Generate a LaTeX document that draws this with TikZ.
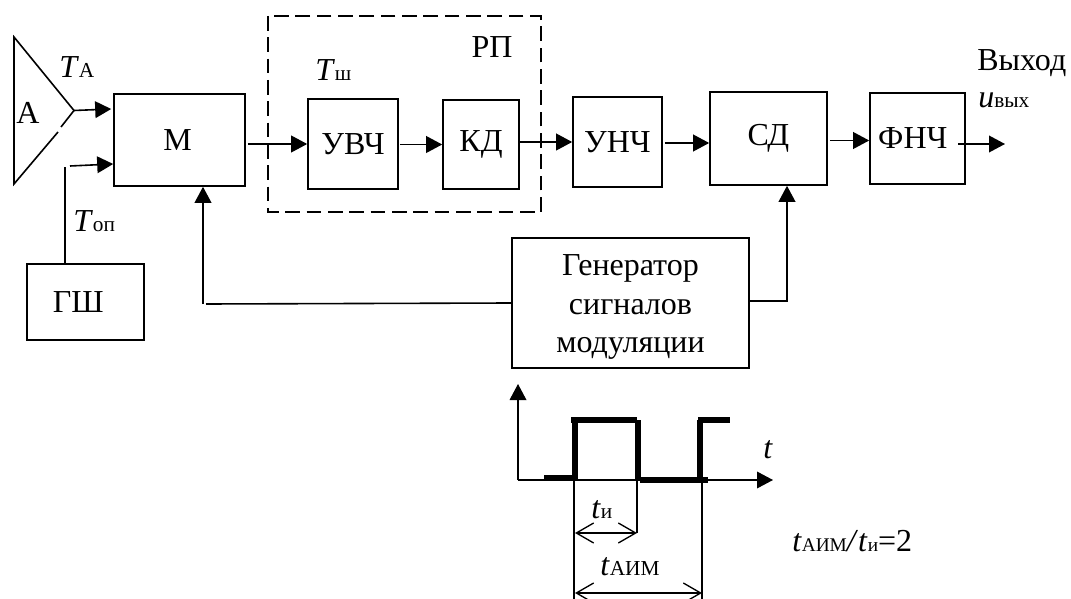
\documentclass[tikz,border=0pt]{standalone}
\usepackage{fontspec}
\setmainfont{Liberation Serif}
\usepackage{tikz}
\usetikzlibrary{arrows.meta,positioning,calc}
\newcommand{\subsz}{\fontsize{16}{18}\selectfont}
\newcommand{\lbl}[2]{\textit{#1}{\subsz #2}}
\newcommand{\lblr}[2]{\textit{#1}{\fontsize{14.5}{16}\selectfont #2}}
\tikzset{
  blockbox/.style n args={2}{draw, line width=1.2pt, inner sep=0pt, align=center,
    minimum width=#1*0.75pt, minimum height=#2*0.75pt},
  sig/.style={line width=1.2pt, -{Triangle[length=12pt,width=12.5pt]}},
  wire/.style={line width=1.2pt},
  thinwire/.style={line width=1pt},
  dimarrow/.style={line width=1pt, {Straight Barb[length=13pt,width=15pt]}-{Straight Barb[length=13pt,width=15pt]}},
  pulse/.style={line width=3.8pt},
  tag/.style={anchor=base west, inner sep=0pt}
}
\begin{document}
\begin{tikzpicture}[x=0.75pt, y=-0.75pt, every node/.style={font=\fontsize{24}{29}\selectfont}]
  \useasboundingbox (0,0) rectangle (1071,599);
  % Blocks
  \node[blockbox={131}{92}] (M) at (179.5,140) {М\hspace{3pt}};
  \node[blockbox={117}{76}] (GSh) at (85.5,302) {ГШ\hspace{11pt}};
  \node[blockbox={90}{90}] (UVCh) at (353,144) {УВЧ};
  \node[blockbox={76}{89}] (KD) at (481,144.5) {КД};
  \node[blockbox={89}{90}] (UNCh) at (617.5,142) {УНЧ};
  \node[blockbox={117}{93}] (SD) at (768.5,138.5) {СД};
  \node[blockbox={95}{91}] (FNCh) at (917.5,138.5) {ФНЧ\hspace{7pt}};
  \node[blockbox={237}{130}] (Gen) at (630.5,303) {\rule{0pt}{22pt}Генератор\\сигналов\\модуляции};
  % Receiver frame
  \draw[wire, dash pattern=on 11pt off 5pt] (268,16) rectangle (541,212);
  \node (RP) at (492,47) {РП};
  % Antenna
  \coordinate (tip) at (74,110.5);
  \draw[wire] (61,127) -- (tip) -- (14,37) -- (14,184) -- (58,132);
  \node[tag] (Aname) at (16,124) {А};
  \node[tag] (TA) at (59,78) {\lbl{T}{А}};
  \node[tag] (Tsh) at (315,81) {\lbl{T}{ш}};
  \node[tag] (Top) at (73,232) {\lbl{T}{оп}};
  % Inputs of the modulator
  \draw[sig] (tip) -- ($(M.west)+(-2,-31)$);
  \coordinate (noise) at (65,167);
  \draw[wire] (GSh.north -| noise) -- (noise);
  \draw[sig] (70,166) -- ($(M.west)+(0,24)$);
  % Main chain
  \draw[sig] (UVCh.west -| M.east) ++(2,0) -- (UVCh.west);
  \draw[sig] (KD.west -| UVCh.east) ++(1,0) -- (KD.west);
  \draw[sig] (UNCh.west -| KD.east) -- (UNCh.west);
  \draw[sig] (UNCh.east) ++(2,1) -- ($(SD.west)+(0,4.5)$);
  \draw[sig] ($(SD.east)+(2,2)$) -- ($(FNCh.west)+(0,2)$);
  \coordinate (out) at (1005,144);
  \draw[sig] (958,144) -- (out);
  \node[tag] (Vyh) at (977,71) {Выход};
  \node[tag] (uout) at (978,108) {\lbl{u}{вых}};
  % Modulation feedback
  \coordinate (fb) at (203,304);
  \draw[sig] (fb) -- (M.south -| fb);
  \draw[wire] (Gen.west) -- ($(fb)+(3,0)$);
  \coordinate (sd) at (787,301);
  \draw[sig] (Gen.east |- sd) -- (sd) -- (SD.south -| sd);
  % Pulse train
  \coordinate (org) at (518,480);
  \draw[sig, line width=1pt] (org) -- (518,384);
  \draw[sig, line width=1pt] (org) -- (773,480);
  \draw[pulse] (544,478) -- (575,478);
  \draw[pulse] (575,480) -- (575,420);
  \draw[pulse] (571,420) -- (637,420);
  \draw[pulse] (638,420) -- (638,480);
  \draw[pulse] (640,480) -- (708,480);
  \draw[pulse] (700,480) -- (700,420);
  \draw[pulse] (698,420) -- (730,420);
  \node[tag] (taxis) at (763,458) {\textit{t}};
  % Dimension lines
  \draw[thinwire] (574,480) -- (574,599);
  \draw[thinwire] (637,480) -- (637,533);
  \draw[thinwire] (702,480) -- (702,599);
  \draw[dimarrow] (575,533) -- (637,533);
  \draw[dimarrow] (575,593) -- (702,593);
  \node[tag] (ti) at (591,518) {\lbl{t}{и}};
  \node[tag] (tA) at (600,575) {\lbl{t}{АИМ}};
  \node[tag] (ratio) at (792,551) {\lblr{t}{АИМ}\textit{/}\lblr{t}{и}=2};
\end{tikzpicture}
\end{document}
